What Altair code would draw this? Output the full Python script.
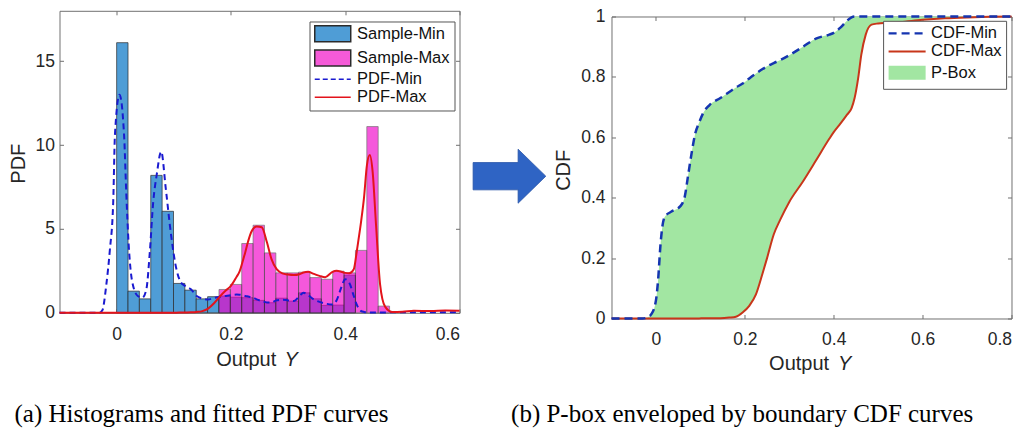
import altair as alt
import pandas as pd

SANS = "Liberation Sans"
SERIF = "Liberation Serif"
TXT = "#262626"
FRAME = "#707070"

# ---------------- Left panel data: histograms ----------------
bin_left = [0.0, 0.0199, 0.0398, 0.0597, 0.0796, 0.0995, 0.1194, 0.1393, 0.1592, 0.1791,
            0.1990, 0.2189, 0.2388, 0.2587, 0.2786, 0.2985, 0.3184, 0.3383, 0.3582, 0.3781,
            0.3980, 0.4179, 0.4378, 0.4577]
bin_right = [0.0199, 0.0398, 0.0597, 0.0796, 0.0995, 0.1194, 0.1393, 0.1592, 0.1791, 0.1990,
             0.2189, 0.2388, 0.2587, 0.2786, 0.2985, 0.3184, 0.3383, 0.3582, 0.3781, 0.3980,
             0.4179, 0.4378, 0.4577, 0.4776]
sample_min = [16.1, 1.29, 0.83, 8.19, 6.05, 1.75, 1.35, 0.83, 0.96, 1.0, 0.93, 0.9,
              0.74, 0.6, 0.87, 0.7, 1.19, 0.83, 0.44, 0.46, 2.24, 0.0, 0.0, 0.0]
sample_max = [0.0, 0.0, 0.0, 0.0, 0.0, 0.0, 0.0, 0.0, 0.0, 1.39, 1.69, 4.13,
              5.22, 3.57, 2.38, 2.38, 2.42, 2.1, 2.0, 2.48, 2.38, 3.72, 11.1, 0.4]

# fitted PDF curves (read at common x positions)
pdf_x = [-0.1, -0.03, -0.025, -0.018, -0.012, -0.006, -0.003, 0.005, 0.013, 0.017,
         0.021, 0.027, 0.037, 0.045, 0.052, 0.058, 0.064, 0.070, 0.078, 0.086,
         0.095, 0.104, 0.111, 0.120, 0.130, 0.140, 0.150, 0.160, 0.170, 0.180,
         0.190, 0.200, 0.210, 0.215, 0.220, 0.225, 0.230, 0.236, 0.245, 0.254,
         0.263, 0.271, 0.280, 0.290, 0.300, 0.310, 0.320, 0.327, 0.335, 0.345,
         0.355, 0.365, 0.377, 0.385, 0.393, 0.400, 0.407, 0.415, 0.420, 0.423,
         0.428, 0.433, 0.438, 0.443, 0.448, 0.454, 0.461, 0.470, 0.482, 0.500,
         0.520, 0.550, 0.575, 0.600]
pdf_min = [0, 0, 0.15, 1.7, 3.7, 6.6, 10.6, 13.0, 10.6, 7.0,
           4.1, 1.9, 1.0, 0.9, 1.4, 3.6, 6.6, 8.2, 9.6, 7.4,
           4.7, 2.7, 1.9, 1.6, 1.4, 1.0, 0.85, 0.8, 0.88, 0.95,
           1.0, 1.05, 1.09, 1.08, 1.05, 1.0, 0.97, 0.93, 0.8, 0.7,
           0.62, 0.62, 0.75, 0.78, 0.74, 0.7, 1.0, 1.2, 1.05, 0.8,
           0.65, 0.55, 0.5, 0.75, 1.5, 2.0, 1.8, 1.0, 0.5, 0.3,
           0.1, 0.05, 0.03, 0.02, 0.02, 0.02, 0.02, 0.02, 0.03, 0.03,
           0.04, 0.03, 0.04, 0.04]
pdf_max = [0, 0, 0, 0, 0, 0, 0, 0, 0, 0,
           0, 0, 0, 0, 0, 0, 0, 0, 0, 0.005,
           0.008, 0.01, 0.012, 0.02, 0.03, 0.05, 0.1, 0.25, 0.55, 0.95,
           1.3, 1.6, 2.15, 2.45, 3.0, 3.6, 4.25, 4.85, 5.15, 5.1,
           4.2, 3.2, 2.6, 2.35, 2.28, 2.25, 2.3, 2.4, 2.44, 2.32,
           2.2, 2.12, 2.42, 2.5, 2.45, 2.38, 2.36, 2.6, 3.6, 4.3,
           5.5, 6.9, 8.8, 9.4, 8.4, 5.2, 1.7, 0.35, 0.05, 0.06,
           0.12, 0.1, 0.13, 0.12]

# ---------------- Right panel data: boundary CDFs ----------------
cdf_x = [-0.1, -0.03, -0.02, -0.01, 0.0, 0.005, 0.01, 0.015, 0.02, 0.035,
         0.055, 0.065, 0.072, 0.08, 0.088, 0.097, 0.107, 0.12, 0.145, 0.165,
         0.18, 0.195, 0.21, 0.225, 0.24, 0.25, 0.265, 0.28, 0.3, 0.33,
         0.36, 0.39, 0.4, 0.415, 0.43, 0.44, 0.447, 0.455, 0.462, 0.472,
         0.485, 0.5, 0.55, 0.6, 0.65, 0.7, 0.75, 0.8]
cdf_min = [0, 0, 0.003, 0.015, 0.06, 0.13, 0.24, 0.31, 0.337, 0.354,
           0.372, 0.405, 0.47, 0.545, 0.61, 0.648, 0.682, 0.706, 0.73, 0.75,
           0.765, 0.778, 0.795, 0.811, 0.826, 0.835, 0.846, 0.856, 0.872, 0.899,
           0.927, 0.94, 0.946, 0.963, 0.986, 0.997, 1.0, 1.0, 1.0, 1.0,
           1.0, 1.0, 1.0, 1.0, 1.0, 1.0, 1.0, 1.0]
cdf_max = [0, 0, 0, 0, 0, 0, 0, 0, 0, 0,
           0, 0, 0, 0, 0, 0, 0.001, 0.001, 0.001, 0.003,
           0.006, 0.02, 0.042, 0.08, 0.15, 0.2, 0.278, 0.328, 0.386, 0.452,
           0.523, 0.595, 0.617, 0.645, 0.675, 0.696, 0.73, 0.796, 0.873, 0.94,
           0.973, 0.977, 0.982, 0.989, 0.994, 0.997, 0.999, 1.0]

left_series = ["Sample-Min", "Sample-Max", "PDF-Min", "PDF-Max"]
right_series = ["CDF-Min", "CDF-Max", "P-Box"]

left_x_ticks = [0, 0.2, 0.4, 0.6]
left_y_ticks = [0, 5, 10, 15]
right_x_ticks = [0, 0.2, 0.4, 0.6, 0.8]
right_y_ticks = [0, 0.2, 0.4, 0.6, 0.8, 1]

# ---------------- styling ----------------
C_MIN_BAR = "#4f9dd6"
C_MAX_BAR = "#f000c8"
C_MAX_BAR_LEG = "#f55ad8"
C_EDGE = "#2b2b2b"
C_PDF_MIN = "#1a1ad0"
C_PDF_MAX = "#e3131b"
C_CDF_MIN = "#1535b0"
C_CDF_MAX = "#c8361a"
C_PBOX = "#a2e6a2"

W, H = 400, 302
TICK_FS = 17.5
LEG_FS = 16.5
TITLE_FS = 20

PATCH_L = "M -1 -1.14 L 4.14 -1.14 L 4.14 1.14 L -1 1.14 Z"
PATCH_R = "M -1 -1 L 4.29 -1 L 4.29 1 L -1 1 Z"
LINE_L = "M -1 0 L 4.14 0"
LINE_R = "M -1 0 L 4.29 0"
ARROW = "M -1 -0.3755 L 0.238 -0.3755 L 0.238 -0.743 L 1 0 L 0.238 0.743 L 0.238 0.3755 L -1 0.3755 Z"


def ax_bottom(values, pad):
    return alt.Axis(orient="bottom", values=values, format="~g", offset=-4, tickSize=4,
                    tickColor=FRAME, tickWidth=1, domain=False, grid=False,
                    labelFont=SANS, labelFontSize=TICK_FS, labelColor=TXT,
                    labelPadding=pad, title=None)


def ax_top(values):
    return alt.Axis(orient="top", values=values, offset=-4, tickSize=4, tickColor=FRAME,
                    tickWidth=1, domain=False, grid=False, labels=False, title=None)


def ax_left(values, pad, title, tx, ty):
    return alt.Axis(orient="left", values=values, format="~g", offset=-4, tickSize=4,
                    tickColor=FRAME, tickWidth=1, domain=False, grid=False,
                    labelFont=SANS, labelFontSize=TICK_FS, labelColor=TXT, labelPadding=pad,
                    title=title, titleFont=SANS, titleFontSize=TITLE_FS, titleFontWeight="normal",
                    titleColor=TXT, titleAngle=270, titleX=tx, titleY=ty,
                    titleAlign="center", titleBaseline="middle")


def ax_right(values):
    return alt.Axis(orient="right", values=values, offset=-4, tickSize=4, tickColor=FRAME,
                    tickWidth=1, domain=False, grid=False, labels=False, title=None)


def text_mark(s, x, y, size, font=SANS, style="normal", align="left", color=TXT):
    return alt.Chart(pd.DataFrame({"t": [s]})).mark_text(
        font=font, fontSize=size, fontStyle=style, align=align, baseline="alphabetic",
        color=color
    ).encode(text="t:N", x=alt.value(x), y=alt.value(y))


def legend(x, y, sw):
    return alt.Legend(title=None, orient="none", legendX=x, legendY=y, padding=4,
                      strokeColor="#555555", fillColor="white", labelFont=SANS,
                      labelFontSize=LEG_FS, labelColor="#111111", rowPadding=1.2,
                      symbolOffset=0, labelOffset=27, symbolSize=196, symbolStrokeWidth=sw,
                      symbolOpacity=1, labelLimit=400)


# ================= LEFT PANEL =================
XL = alt.Scale(domain=[-0.1, 0.6], nice=False, zero=False)
YL = alt.Scale(domain=[0, 18], nice=False, zero=False)

hist = pd.DataFrame({"x0": bin_left, "x1": bin_right, "vmin": sample_min, "vmax": sample_max})
hist_min = hist[hist["vmin"] > 0]
hist_max = hist[hist["vmax"] > 0]
pdf = pd.DataFrame({"x": pdf_x, "pmin": pdf_min, "pmax": pdf_max})

bars_min = alt.Chart(hist_min).mark_rect(
    color=C_MIN_BAR, stroke=C_EDGE, strokeWidth=0.7, opacity=1
).encode(
    x=alt.X("x0:Q", scale=XL, axis=ax_bottom(left_x_ticks, 12.5)),
    x2="x1:Q",
    y=alt.Y("vmin:Q", scale=YL, axis=ax_left(left_y_ticks, 5, "PDF", -45, 152.4)),
    y2=alt.datum(0),
)
bars_max = alt.Chart(hist_max).mark_rect(
    color=C_MAX_BAR, stroke=C_EDGE, strokeWidth=0.7, opacity=0.65
).encode(
    x=alt.X("x0:Q", scale=XL, axis=ax_top(left_x_ticks)),
    x2="x1:Q",
    y=alt.Y("vmax:Q", scale=YL, axis=ax_right(left_y_ticks)),
    y2=alt.datum(0),
)
line_pmin = alt.Chart(pdf).mark_line(
    color=C_PDF_MIN, strokeWidth=2, strokeDash=[6, 4], interpolate="monotone"
).encode(
    x=alt.X("x:Q", scale=XL, axis=None),
    y=alt.Y("pmin:Q", scale=YL, axis=None),
)
line_pmax = alt.Chart(pdf).mark_line(
    color=C_PDF_MAX, strokeWidth=2, interpolate="monotone"
).encode(
    x=alt.X("x:Q", scale=XL, axis=None),
    y=alt.Y("pmax:Q", scale=YL, axis=None),
)

leg_left = legend(250, 10.7, 1.5)
legend_src_left = alt.Chart(pd.DataFrame({"series": left_series})).mark_point(
    size=196, opacity=1, clip=True
).encode(
    x=alt.value(-600), y=alt.value(-600),
    fill=alt.Fill("series:N", legend=leg_left, scale=alt.Scale(
        domain=left_series, range=[C_MIN_BAR, C_MAX_BAR_LEG, "transparent", "transparent"])),
    stroke=alt.Stroke("series:N", legend=leg_left, scale=alt.Scale(
        domain=left_series, range=[C_EDGE, C_EDGE, C_PDF_MIN, C_PDF_MAX])),
    shape=alt.Shape("series:N", legend=leg_left, scale=alt.Scale(
        domain=left_series, range=[PATCH_L, PATCH_L, LINE_L, LINE_L])),
    strokeDash=alt.StrokeDash("series:N", legend=leg_left, scale=alt.Scale(
        domain=left_series, range=[[1, 0], [1, 0], [5, 3], [1, 0]])),
)

left = alt.layer(
    bars_min, bars_max, line_pmin, line_pmax, legend_src_left,
    text_mark("Output", 216.7, 355, 20, align="right"),
    text_mark("Y", 225, 355, 20, style="italic"),
    text_mark("(a) Histograms and fitted PDF curves", -45, 411.7, 25, font=SERIF, color="#000000"),
).resolve_axis(x="independent", y="independent").properties(width=W, height=H)

# ================= RIGHT PANEL =================
XR = alt.Scale(domain=[-0.1, 0.8], nice=False, zero=False)
YR = alt.Scale(domain=[0, 1], nice=False, zero=False)
cdf = pd.DataFrame({"x": cdf_x, "cmin": cdf_min, "cmax": cdf_max})

pbox = alt.Chart(cdf).mark_area(color=C_PBOX, opacity=1, interpolate="monotone").encode(
    x=alt.X("x:Q", scale=XR, axis=ax_bottom(right_x_ticks, 12.5)),
    y=alt.Y("cmin:Q", scale=YR, axis=ax_left(right_y_ticks, 6.5, "CDF", -52.4, 153.3)),
    y2="cmax:Q",
)
line_cmax = alt.Chart(cdf).mark_line(color=C_CDF_MAX, strokeWidth=2, interpolate="monotone").encode(
    x=alt.X("x:Q", scale=XR, axis=ax_top(right_x_ticks)),
    y=alt.Y("cmax:Q", scale=YR, axis=ax_right(right_y_ticks)),
)
line_cmin = alt.Chart(cdf).mark_line(
    color=C_CDF_MIN, strokeWidth=2.5, strokeDash=[8, 5], interpolate="monotone"
).encode(
    x=alt.X("x:Q", scale=XR, axis=None),
    y=alt.Y("cmin:Q", scale=YR, axis=None),
)

leg_right = legend(271.6, 10, 2.2)
legend_src_right = alt.Chart(pd.DataFrame({"series": right_series})).mark_point(
    size=196, opacity=1, clip=True
).encode(
    x=alt.value(-600), y=alt.value(-600),
    fill=alt.Fill("series:N", legend=leg_right, scale=alt.Scale(
        domain=right_series, range=["transparent", "transparent", C_PBOX])),
    stroke=alt.Stroke("series:N", legend=leg_right, scale=alt.Scale(
        domain=right_series, range=[C_CDF_MIN, C_CDF_MAX, "transparent"])),
    shape=alt.Shape("series:N", legend=leg_right, scale=alt.Scale(
        domain=right_series, range=[LINE_R, LINE_R, PATCH_R])),
    strokeDash=alt.StrokeDash("series:N", legend=leg_right, scale=alt.Scale(
        domain=right_series, range=[[8, 5], [1, 0], [1, 0]])),
)

arrow = alt.Chart(pd.DataFrame({"a": ["arrow"]})).mark_point(
    shape=ARROW, size=5285, filled=True, fill="#2f64c4", stroke="#2a56a8",
    strokeWidth=0.8, opacity=1
).encode(x=alt.value(-102.05), y=alt.value(159.7))

right = alt.layer(
    pbox, line_cmax, line_cmin, legend_src_right, arrow,
    text_mark("Output", 217.6, 353.3, 20, align="right"),
    text_mark("Y", 226.6, 353.3, 20, style="italic"),
    text_mark("(b) P-box enveloped by boundary CDF curves", -100.4, 406, 25, font=SERIF,
              color="#000000"),
).resolve_axis(x="independent", y="independent").properties(width=W, height=H)

# small invisible spacer that lowers the right panel a few pixels, as in the reference
spacer = alt.Chart(pd.DataFrame({"s": [0]})).mark_point(size=0, opacity=0).encode(
    x=alt.value(0), y=alt.value(0)
).properties(width=W, height=1, view=alt.ViewBackground(stroke="transparent"))

right_col = alt.vconcat(spacer, right, spacing=4.7, bounds="flush")

chart = alt.hconcat(left, right_col, spacing=6).resolve_scale(
    fill="independent", stroke="independent", shape="independent", strokeDash="independent"
).properties(
    padding={"left": 7.5, "top": 6.8, "right": 5, "bottom": 3},
    background="white",
).configure_view(stroke=FRAME, strokeWidth=1)

chart.save("out.html", embed_options={"renderer": "svg", "actions": False})
